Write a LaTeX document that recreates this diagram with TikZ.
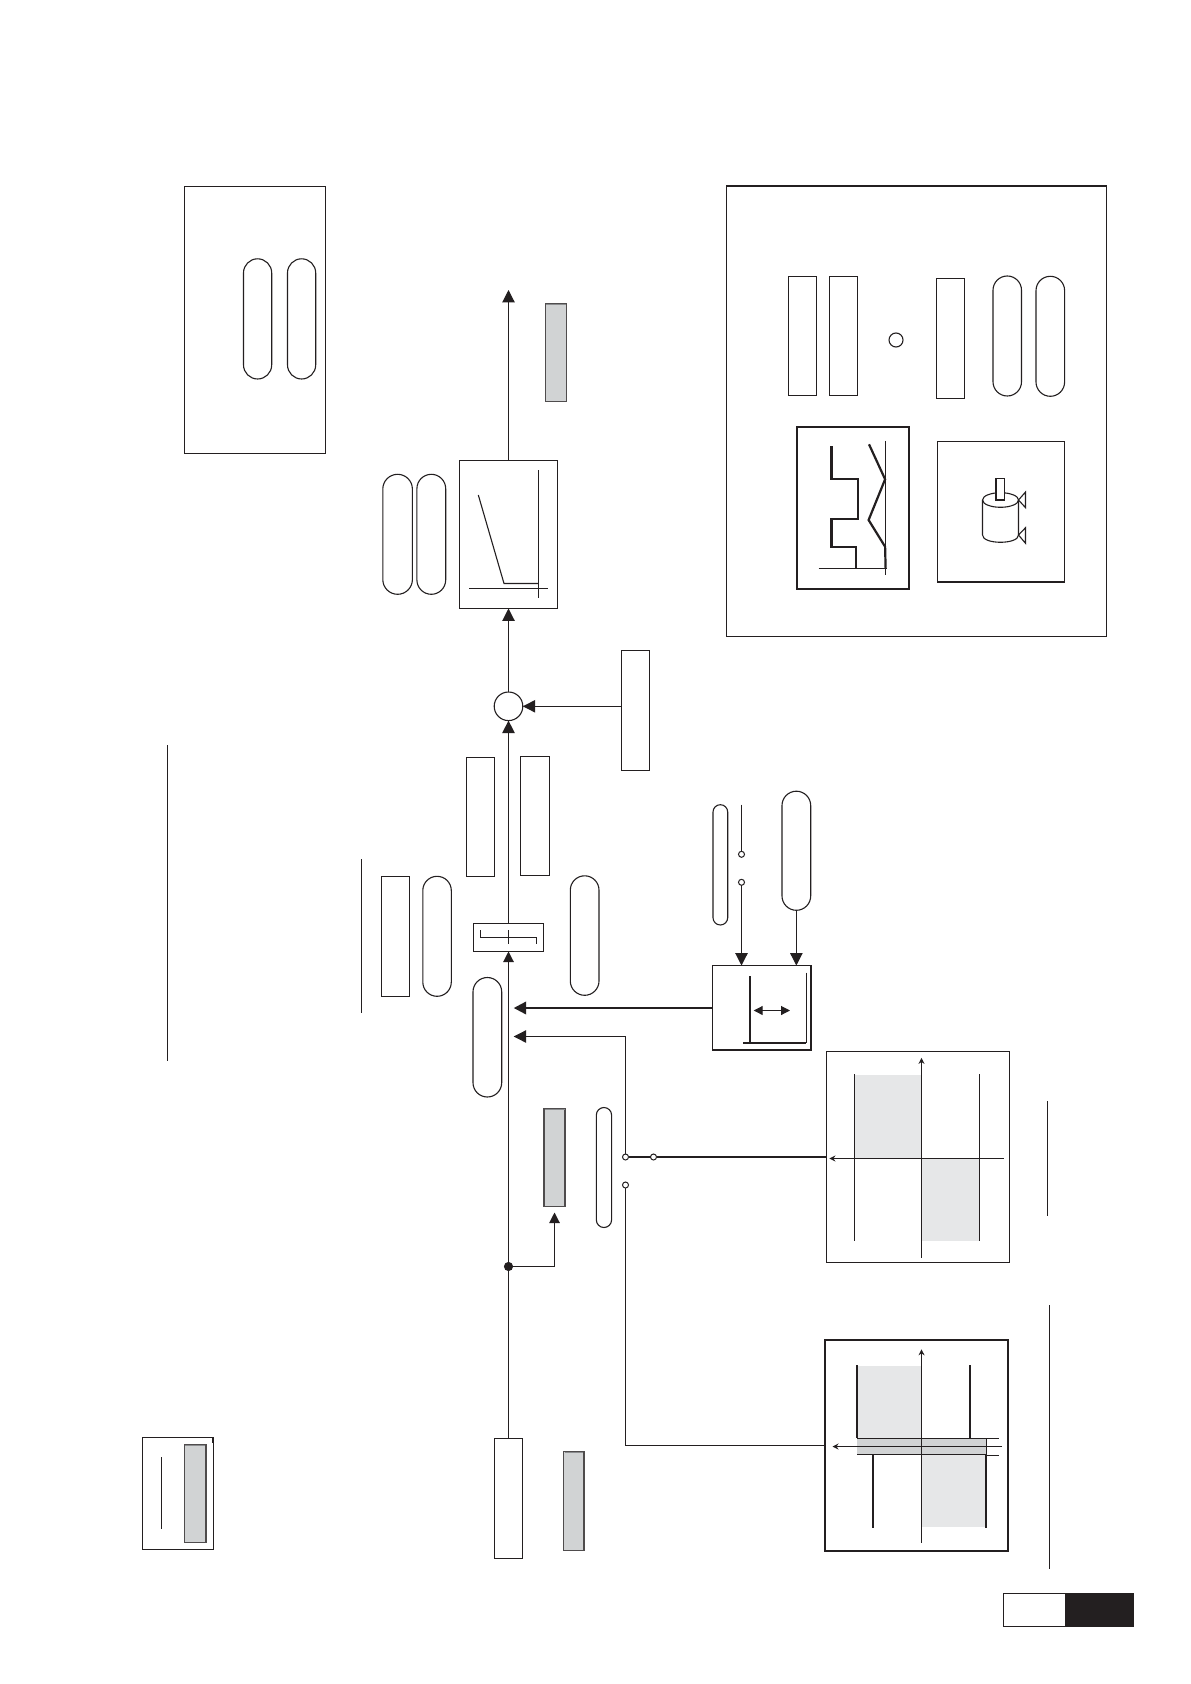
\documentclass[tikz,border=0pt]{standalone}
\usetikzlibrary{arrows.meta,calc}
\definecolor{ink}{HTML}{231F20}
\definecolor{midgray}{HTML}{D1D3D4}
\definecolor{lightgray2}{HTML}{E6E7E8}
\definecolor{bevel}{HTML}{8A8C8E}
\newcommand{\bx}[6]{\node[#2,minimum width={(#5-#3)*0.5pt},minimum height={(#6-#4)*0.5pt}] (#1) at ({(#3+#5)/2},{(#4+#6)/2}) {};}
\newcommand{\pl}[5]{\node[pill,minimum width={(#4-#2)*0.5pt},minimum height={(#5-#3)*0.5pt},rounded corners={(#4-#2)*0.25pt}] (#1) at ({(#2+#4)/2},{(#3+#5)/2}) {};}
\tikzset{
  x=0.5pt,y=-0.5pt,
  every node/.style={inner sep=0pt,outer sep=0pt},
  thinline/.style={draw=ink,line width=0.55pt},
  thickline/.style={draw=ink,line width=1.1pt},
  midline/.style={draw=ink,line width=0.75pt},
  plainbox/.style={rectangle,thinline},
  heavybox/.style={rectangle,draw=ink,line width=1.2pt},
  pill/.style={rectangle,thinline},
  graybox/.style={rectangle,fill=midgray,draw=ink!80,line width=0.55pt},
  bandbox/.style={rectangle,fill=midgray,draw=none},
  sumnode/.style={circle,thinline,fill=white},
  term/.style={circle,draw=ink,line width=0.5pt,fill=white,minimum size=3pt},
  dot/.style={circle,fill=ink,minimum size=4.6pt},
  bigtip/.style={-{Triangle[length=6.2pt,width=6.2pt]}},
  smalltip/.style={-{Triangle[length=5.3pt,width=5.3pt]}},
  axistip/.style={-{Stealth[length=3pt,width=3pt]}}
}
\begin{document}
\begin{tikzpicture}
\useasboundingbox (0,0) rectangle (1190,1684);
\fill[white] (0,0) rectangle (1190,1684);

% left upper box
\bx{tbox}{plainbox}{184.5}{186.5}{325.5}{453.5}
\pl{tp1}{243.5}{258.8}{271.7}{379}
\pl{tp2}{287.5}{258.8}{315.7}{379}

% free rules at the left and right
\draw[draw=ink,line width=0.95pt] (167.5,745.4) -- (167.5,1061);
\draw[thinline] (361.5,859) -- (361.5,1012.7);
\draw[thinline] (1047.5,1101) -- (1047.5,1216);
\draw[thinline] (1049.5,1305) -- (1049.5,1568.6);

% main column nodes
\bx{qbox}{plainbox}{494.5}{1438.5}{522.5}{1558.5}
\bx{rgray}{graybox}{563.5}{1451.5}{584.5}{1550.5}
\bx{smbox}{plainbox}{473.5}{923.5}{543.5}{951.5}
\node[sumnode,minimum size=14.3pt] (sum) at (508.5,706.3) {};
\bx{jbox}{plainbox}{459.5}{460.5}{557.5}{608.5}
\coordinate (outtip) at (508.5,290);
\node[dot] (junc) at (508.5,1266.5) {};
\bx{pgray}{graybox}{544}{1108.5}{565}{1206.5}
\bx{ugray}{graybox}{545.5}{303.5}{566.5}{401.5}
\pl{pf}{473}{977.5}{501.7}{1097}
\pl{pe}{570.3}{875.8}{599}{995.3}
\pl{pd}{422.8}{876.3}{451.3}{996.3}
\bx{rc}{plainbox}{381.5}{876.5}{409.5}{996.5}
\bx{ra}{plainbox}{466.5}{757.5}{494.5}{876.5}
\bx{rb}{plainbox}{520.5}{756.5}{549.5}{875.5}
\bx{rt}{plainbox}{621.5}{650.5}{649.5}{770.5}
\pl{pj1}{382.8}{474.3}{412.4}{594.3}
\pl{pj2}{416.9}{474.3}{445.7}{594.3}
\pl{pg}{713}{804.7}{727.7}{925}
\pl{ph}{782}{791.2}{810.7}{910.3}
\pl{pthin}{596.3}{1107.5}{611.6}{1227.5}
\bx{ibox}{plainbox}{712.5}{965.5}{811}{1050}

% terminals
\node[term] (t1) at (741.5,854.3) {};
\node[term] (t2) at (741.5,882.3) {};
\node[term] (c1) at (625.5,1157) {};
\node[term] (c2) at (653.5,1157) {};
\node[term] (c3) at (625.5,1185) {};

% graph N
\bx{nbox}{plainbox}{826.5}{1051.5}{1009.5}{1262.5}
\fill[lightgray2] (855,1075) rectangle (921.5,1158.5);
\fill[lightgray2] (921.5,1158.5) rectangle (979.5,1241);
\draw[midline] (854.5,1074) -- (854.5,1241.4);
\draw[midline] (979.5,1074) -- (979.5,1241.4);
\draw[thinline,axistip] (921.5,1257.9) -- (921.5,1057.9);
\draw[thinline,axistip] (1003.5,1158.5) -- (829.4,1158.5);

% graph O
\bx{obox}{heavybox}{824.8}{1340}{1008.1}{1551}
\fill[lightgray2] (857.7,1366) rectangle (921.5,1438.5);
\fill[lightgray2] (922,1455) rectangle (986,1526.8);
\draw[thickline] (857.3,1365) -- (857.3,1438.2);
\draw[thickline] (970.2,1365) -- (970.2,1438.2);
\draw[thickline] (873,1455) -- (873,1527.5);
\draw[thickline] (986.3,1438.2) -- (986.3,1527.5);
\bx{band}{bandbox}{857}{1438.5}{986}{1455}
\draw[thinline] (857,1438.5) -- (999,1438.5);
\draw[thinline] (857,1454.5) -- (986,1454.5);
\draw[thinline] (986,1455.5) -- (999,1455.5);
\draw[thinline,axistip] (921.5,1542.9) -- (921.5,1349.3);
\draw[thinline,axistip] (1002,1446.5) -- (832.5,1446.5);

% connectors
\draw[thinline] (qbox.north) -- (junc.center);
\draw[thinline,smalltip] (junc.center) -- (smbox.south);
\draw[thinline,bigtip] (smbox.north) -- (sum.south);
\draw[thinline,bigtip] (sum.north) -- (jbox.south);
\draw[thinline,bigtip] (jbox.north) -- (outtip);
\draw[thinline,smalltip] (junc.center) -- (junc.center -| pgray.south) -- (pgray.south |- 0,1212.5);
\draw[thinline,bigtip] (rt.west |- sum.east) -- (sum.east);
\coordinate (ta) at (513.7,1008);
\coordinate (tb) at (513.7,1036.5);
\draw[thickline,bigtip] (ibox.west |- ta) -- (ta);
\draw[thinline,bigtip] (c1.north) -- (c1.north |- tb) -- (tb);
\draw[thickline] (c1.east) -- (c2.west);
\draw[thickline] (c2.east) -- (nbox.west);
\draw[thinline] (c3.south) |- (obox.west);
\coordinate (t1top) at (741.5,804.7);
\draw[thinline] (t1top) -- (t1.north);
\draw[thinline,bigtip] (t2.south) -- (t2.south |- ibox.north);
\draw[thinline,bigtip] (ph.south) -- (ph.south |- ibox.north);

% inside small box
\draw[thinline] (480.5,930) -- (480.5,937.5) -- (536.5,937.5) -- (536.5,944);
\draw[thinline] (508.5,930) -- (508.5,944);

% inside J
\draw[thinline] (538.5,470) -- (538.5,598.3);
\draw[thinline] (469,588.5) -- (547.6,588.5);
\draw[thinline] (478.3,495) -- (504,583.5) -- (538.5,583.5);

% inside I
\draw[thickline] (750,976) -- (750,1042.7);
\draw[thinline] (806.5,972.7) -- (806.5,1042.7);
\draw[thickline] (743,1042.7) -- (806.3,1042.7);
\draw[thinline,{Triangle[length=4.5pt,width=4.5pt]}-{Triangle[length=4.5pt,width=4.5pt]}] (753.7,1010.5) -- (790,1010.5);
\draw[thickline] (811,965.3) -- (811,1050) -- (712.3,1050);

% legend box K
\bx{kbox}{plainbox}{726.5}{185.7}{1106.5}{636.5}
\draw[thickline] (726.2,185.7) -- (1106.4,185.7);
\bx{k1}{plainbox}{788.5}{276.5}{816.5}{395.5}
\bx{k2}{plainbox}{829.5}{276.5}{857.5}{395.5}
\node[circle,thinline,minimum size=7pt] (k3) at (896,340) {};
\bx{k4}{plainbox}{936.5}{278.5}{964.5}{398.5}
\pl{k5}{993}{276}{1021.5}{396}
\pl{k6}{1036}{276.3}{1064.6}{396.3}
\bx{lbox}{heavybox}{797}{427}{909}{589}
\draw[thinline] (885.5,441) -- (885.5,575);
\draw[thinline] (818.5,568.5) -- (887.4,568.5);
\draw[thickline] (831.4,446) -- (831.4,479.3) -- (858,479.3) -- (858,519.3) -- (831.4,519.3) -- (831.4,546.7) -- (856.2,546.7) -- (856.2,568.3);
\draw[thickline] (869,444.3) -- (885.1,479.3) -- (868.6,520) -- (885.1,546.7) -- (885.6,568.3);
\bx{mbox}{plainbox}{937.5}{441.5}{1064.5}{582}
\draw[thickline] (937.4,582) -- (1064.6,582);
% motor symbol
\draw[thinline] (982.5,500) -- (982.5,535) .. controls (982.5,544.7) and (1018.5,544.7) .. (1018.5,535) -- (1018.5,500);
\draw[thinline] (1000.5,500) ellipse[x radius=18,y radius=7.3];
\draw[midline,fill=white] (996.2,478.3) rectangle (1004.5,500);
\draw[thinline] (1018.5,500) -- (1025.5,492) -- (1025.5,507.7) -- cycle;
\draw[thinline] (1018.5,535) -- (1025.5,527.7) -- (1025.5,543.3) -- cycle;

% box S
\bx{sbox}{plainbox}{142.5}{1437.5}{213.5}{1549.5}
\bx{sgray}{graybox}{184.5}{1444.5}{206.5}{1542.5}
\draw[thinline] (161.5,1457) -- (161.5,1529);
\draw[thickline] (213,1437.3) -- (213,1443);
\draw[line width=0.9pt,bevel] (185,1445.5) -- (206,1445.5);
\draw[line width=0.9pt,ink!80] (206,1444.5) -- (206,1542.3);
\draw[line width=0.9pt,bevel] (564.5,1452.5) -- (584,1452.5);
\draw[line width=0.9pt,ink!80] (584,1451.5) -- (584,1550.5);
\draw[line width=0.8pt,bevel] (544.5,1109.5) -- (564.5,1109.5);
\draw[line width=0.8pt,bevel] (546,304.5) -- (566,304.5);

% page tab
\node[rectangle,fill=ink,minimum width={68.6*0.5pt},minimum height={33.6*0.5pt}] (tabk) at (1099.7,1609.8) {};
\bx{tabw}{plainbox}{1003.5}{1593.5}{1065.5}{1626.5}
\end{tikzpicture}
\end{document}
